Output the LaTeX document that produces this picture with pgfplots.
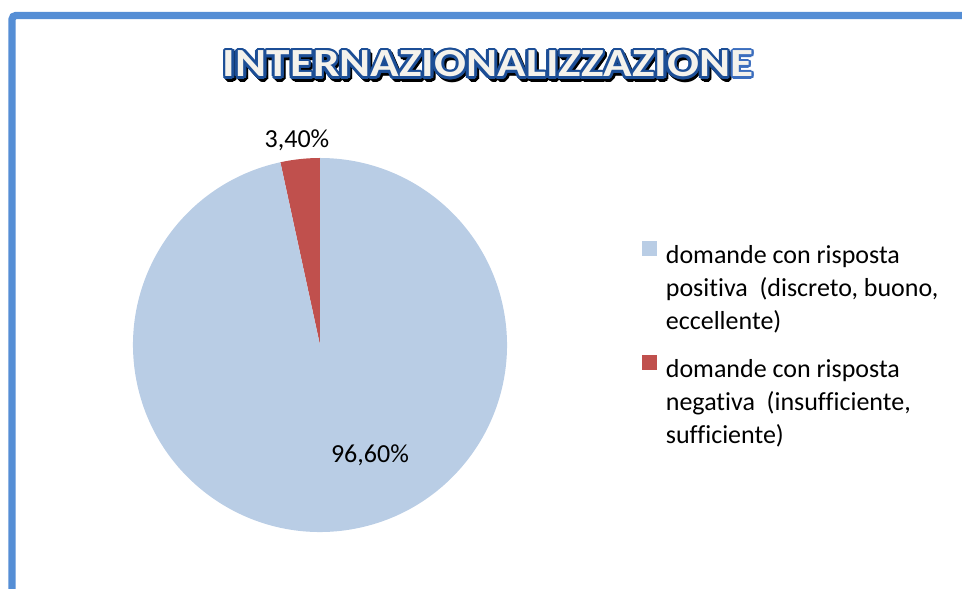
\documentclass[border=0pt]{standalone}
\usepackage{graphicx}
\usepackage{pgfplots}
\pgfplotsset{compat=1.18}
\usepackage{pgfplotstable}
\usepackage{fontspec}
\setmainfont{Carlito}[Ligatures={NoCommon}]
\definecolor{pieblue}{RGB}{185,205,229}
\definecolor{piered}{RGB}{192,80,77}
\definecolor{frameblue}{RGB}{85,142,213}
\definecolor{titleblue}{RGB}{28,78,150}
\definecolor{titleblueE}{RGB}{60,110,190}
\definecolor{titlefill}{RGB}{244,242,236}

\pgfplotstableread{
label value
pos 96.6
neg 3.4
}\piedata

\newcommand\TT{\scalebox{1.18}[1]{\fontsize{30}{36}\selectfont\bfseries INTERNAZIONALIZZAZION}}
\newcommand\TE{\scalebox{1.18}[1]{\fontsize{30}{36}\selectfont\bfseries E}}
\newcommand\lgtxt[3]{\begin{tabular}[t]{@{}l@{}}#1\\#2\\#3\end{tabular}}

\begin{document}
\begin{tikzpicture}
\pgfplotstablegetelem{1}{value}\of\piedata
\pgfmathsetmacro\angneg{3.6*\pgfplotsretval}
\pgfplotstablegetelem{0}{value}\of\piedata
\pgfmathsetmacro\angpos{3.6*\pgfplotsretval}
\pgfmathsetmacro\angmid{90+\angneg}
\pgfmathsetmacro\cx{cos(\angmid)}
\pgfmathsetmacro\cy{sin(\angmid)}
\useasboundingbox (0,0) rectangle (721.5pt,441pt);
\begin{scope}
\clip (0,0) rectangle (721.5pt,441pt);
\draw[frameblue, line width=5.5pt, rounded corners=3pt] (9pt,-20pt) -- (9pt,429.4pt) -- (760pt,429.4pt);
\end{scope}
% title
\foreach \a in {0,30,...,330}{
  \node[anchor=base west, inner sep=0pt, text=black] at ([shift={(\a:2pt)}]168.5pt,381.25pt) {\TT};
}
\foreach \a in {0,22.5,...,337.5}{
  \node[anchor=base west, inner sep=0pt, text=titleblue] at ([shift={(\a:2pt)}]167pt,383.25pt) {\TT};
}
\node[anchor=base west, inner sep=0pt, text=titlefill] (T) at (167pt,383.25pt) {\TT};
\foreach \a in {0,22.5,...,337.5}{
  \node[anchor=base west, inner sep=0pt, text=titleblueE] at ([shift={(\a:1.6pt)}]T.base east) {\TE};
}
\node[anchor=base west, inner sep=0pt, text=titlefill] at (T.base east) {\TE};

\begin{axis}[
  at={(240pt,182.25pt)}, anchor=center,
  x=140.25pt, y=140.25pt,
  xmin=-1, xmax=1, ymin=-1, ymax=1,
  hide axis, clip=false,
  legend style={draw=none, fill=none, inner sep=0pt, outer sep=0pt,
    at={(axis description cs:1.361,0.786)}, anchor=north west,
    font=\fontsize{19.5}{24.75}\selectfont,
    cells={anchor=base west, inner sep=0pt},
    column sep=5pt, row sep=62.5pt},
  legend cell align=left,
]
\fill[piered] (axis cs:0,0) -- (axis cs:0,1) arc[start angle=90, delta angle=\angneg, radius=140.25pt] -- cycle;
\fill[pieblue] (axis cs:0,0) -- (axis cs:\cx,\cy) arc[start angle=\angmid, delta angle=\angpos, radius=140.25pt] -- cycle;
\node[font=\fontsize{19.5}{24}\selectfont] at (axis cs:-0.123,1.096) {3,40\%};
\node[font=\fontsize{19.5}{24}\selectfont] at (axis cs:0.267,-0.588) {96,60\%};
\addlegendimage{legend image code/.code={\fill[pieblue] (0pt,-1.5pt) rectangle (10.5pt,9pt);}}
\addlegendentry{\lgtxt{domande con risposta}{positiva\ \ (discreto, buono,}{eccellente)}}
\addlegendimage{legend image code/.code={\fill[piered] (0pt,-1.5pt) rectangle (10.5pt,9pt);}}
\addlegendentry{\lgtxt{domande con risposta}{negativa\ \ (insufficiente,}{sufficiente)}}
\end{axis}
\end{tikzpicture}
\end{document}
